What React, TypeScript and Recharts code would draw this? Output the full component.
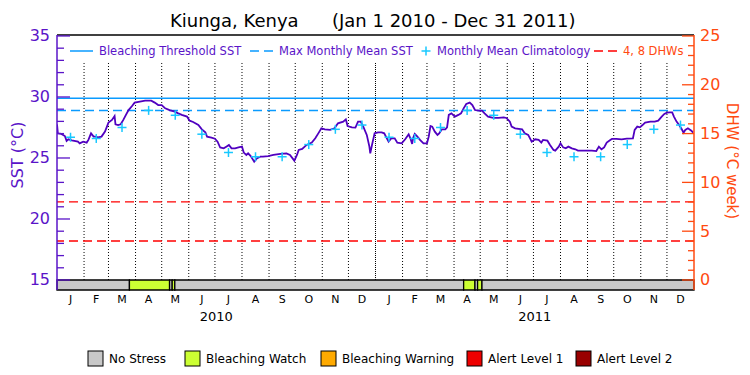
import { ComposedChart, Line, Scatter, XAxis, YAxis, ReferenceLine, ReferenceArea } from "recharts";

const FONT = "'DejaVu Sans', sans-serif";
const PURPLE = "#5a14c8";
const SST_COLOR = "#5000c0";
const BLUE = "#0a9bff";
const CYAN = "#18c8ff";
const RED = "#ff0000";
const ORANGE = "#ff4a10";

// x axis: days since Jan 1 2010
const MONTH_LETTERS = ["J", "F", "M", "A", "M", "J", "J", "A", "S", "O", "N", "D"];
const MONTH_STARTS = [0, 31, 59, 90, 120, 151, 181, 212, 243, 273, 304, 334, 365, 396, 424, 455, 485, 516, 546, 577, 608, 638, 669, 699, 730];
const YEAR_LABELS = ["2010", "2011"];
const YEAR_MIDS = [182.5, 547.5];

const SST_TICKS = [15, 16, 17, 18, 19, 20, 21, 22, 23, 24, 25, 26, 27, 28, 29, 30, 31, 32, 33, 34, 35];
const DHW_TICKS = [0, 1, 2, 3, 4, 5, 6, 7, 8, 9, 10, 11, 12, 13, 14, 15, 16, 17, 18, 19, 20, 21, 22, 23, 24, 25];

// daily SST
const SST_DAYS = [
  0, 1, 5, 9, 11, 13, 17, 24, 26, 30,
  34, 36, 39, 42, 44, 47, 51, 55, 59, 63,
  66, 67, 70, 73, 76, 79, 82, 86, 89, 95,
  101, 108, 112, 116, 120, 124, 129, 135, 139, 143,
  149, 152, 156, 162, 166, 170, 172, 177, 181, 184,
  187, 191, 194, 197, 200, 204, 208, 212, 214, 217,
  219, 222, 226, 229, 233, 236, 242, 248, 256, 263,
  267, 270, 272, 275, 277, 281, 286, 292, 296, 300,
  303, 307, 313, 318, 322, 328, 331, 333, 338, 342,
  345, 348, 351, 355, 358, 359, 361, 364, 368, 372,
  375, 378, 380, 383, 387, 390, 395, 399, 403, 405,
  407, 408, 410, 413, 416, 420, 424, 426, 428, 430,
  433, 436, 438, 441, 445, 447, 449, 452, 456, 460,
  463, 466, 469, 473, 476, 479, 483, 487, 490, 494,
  500, 506, 512, 515, 519, 521, 525, 533, 536, 540,
  544, 548, 552, 555, 557, 562, 565, 569, 571, 575,
  577, 580, 583, 586, 590, 594, 597, 605, 613, 618,
  621, 624, 627, 630, 634, 636, 641, 647, 653, 660,
  662, 665, 668, 671, 674, 680, 685, 689, 693, 696,
  699, 702, 705, 707, 710, 713, 716, 718, 720, 723,
  727, 729,
];
const SST_VALUES = [
  27.75, 27.02, 26.97, 26.8, 26.4, 26.53, 26.45, 26.34, 26.2, 26.34,
  26.26, 26.48, 27.02, 26.75, 26.75, 26.69, 26.75, 27.16, 27.9, 28.12,
  28.44, 27.76, 27.7, 27.76, 28.12, 28.53, 28.93, 29.26, 29.54, 29.62,
  29.7, 29.7, 29.54, 29.34, 29.34, 29.07, 28.93, 28.8, 28.66, 28.53,
  28.39, 28.06, 27.95, 27.7, 27.35, 27.1, 26.75, 26.67, 26.58, 26.34,
  25.86, 25.79, 25.93, 26.07, 25.79, 25.79, 25.87, 25.93, 25.44, 25.25,
  25.38, 25.16, 24.7, 24.97, 25.11, 25.11, 25.16, 25.25, 25.33, 25.38,
  25.25, 24.97, 24.78, 25.25, 25.66, 25.74, 26.07, 26.26, 26.61, 27.08,
  27.43, 27.35, 27.3, 27.43, 27.84, 27.98, 28.17, 27.62, 27.51, 27.49,
  27.98, 27.98, 27.57, 26.89, 25.93, 25.38, 26.07, 27.02, 27.1, 27.1,
  27.02, 26.61, 26.34, 26.61, 26.61, 26.26, 26.2, 26.53, 26.94, 26.61,
  26.15, 26.61, 26.97, 26.75, 26.48, 26.2, 26.2, 26.75, 27.62, 27.57,
  27.16, 26.89, 27.02, 27.35, 27.35, 27.51, 28.53, 28.66, 28.39, 28.53,
  28.66, 29.07, 29.43, 29.54, 29.34, 28.93, 28.88, 28.88, 28.66, 28.39,
  28.28, 28.28, 28.33, 28.28, 27.98, 27.57, 27.43, 27.35, 27.02, 26.89,
  26.34, 26.53, 26.48, 26.26, 26.48, 26.42, 26.07, 25.66, 25.6, 25.93,
  26.2, 25.87, 25.79, 25.93, 25.79, 25.71, 25.6, 25.6, 25.6, 25.57,
  25.93, 25.71, 25.87, 26.26, 26.48, 26.56, 26.56, 26.53, 26.58, 26.61,
  27.3, 27.57, 27.51, 27.7, 27.9, 27.98, 27.98, 28.06, 28.39, 28.61,
  28.72, 28.74, 28.74, 28.39, 27.98, 27.7, 27.35, 27.08, 27.3, 27.43,
  27.24, 27.08,
];

// monthly mean climatology, Jan..Dec
const CLIM_MONTHLY = [26.7, 26.6, 27.5, 28.9, 28.5, 26.95, 25.45, 25.1, 25.1, 26.1, 27.35, 27.7];
const MMM = 28.9;
const BLEACHING_THRESHOLD = 29.9;
const DHW_LEVELS = [4, 8];

// bleaching stress bar
const STRESS_STARTS = [0, 83, 129, 132, 135, 466, 479, 482, 487];
const STRESS_ENDS = [83, 129, 132, 135, 466, 479, 482, 487, 730];
const STRESS_LEVELS = [0, 1, 0, 1, 0, 1, 0, 1, 0];
const STRESS_NAMES = ["No Stress", "Bleaching Watch", "Bleaching Warning", "Alert Level 1", "Alert Level 2"];
const STRESS_COLORS = ["#c8c8c8", "#ccff33", "#ffaa00", "#ee0000", "#990000"];

const SST_MIN = 14.18;
const SST_MAX = 35.08;
const BAR_TOP = 15;
const DOT_TOP = 32.8;

const sstData = SST_DAYS.map((d, i) => ({ day: d, sst: SST_VALUES[i] }));
const midMonths = MONTH_STARTS.slice(0, -1).map((s, i) => (s + MONTH_STARTS[i + 1]) / 2);
const climData = midMonths.map((d, i) => ({ day: d, clim: CLIM_MONTHLY[i % 12] }));
const xTicks = [...midMonths, ...YEAR_MIDS].sort((a, b) => a - b);

function LeftTick(props: any) {
  const { x, y, payload } = props;
  const major = payload.value % 5 === 0;
  const ax = x + 7;
  return (
    <g>
      <line x1={ax} x2={ax + (major ? 13 : 7)} y1={y} y2={y} stroke={PURPLE} strokeWidth={1.3} />
      {major && (
        <text x={x} y={y} textAnchor="end" dominantBaseline="central" fontSize={16} fontFamily={FONT} fill={PURPLE}>
          {payload.value}
        </text>
      )}
    </g>
  );
}

function RightTick(props: any) {
  const { x, y, payload } = props;
  const major = payload.value % 5 === 0;
  const ax = x - 6;
  return (
    <g>
      <line x1={ax - (major ? 12 : 6)} x2={ax} y1={y} y2={y} stroke={ORANGE} strokeWidth={1.3} />
      {major && (
        <text x={x} y={y} textAnchor="start" dominantBaseline="central" fontSize={16} fontFamily={FONT} fill={ORANGE}>
          {payload.value}
        </text>
      )}
    </g>
  );
}

// month letters, plus the year under the middle of each year
function TimeTick(props: any) {
  const { x, y, payload } = props;
  const yi = YEAR_MIDS.indexOf(payload.value);
  if (yi >= 0) {
    return (
      <text x={x} y={y + 17} textAnchor="middle" dominantBaseline="central" fontSize={13} fontFamily={FONT} fill="#000">
        {YEAR_LABELS[yi]}
      </text>
    );
  }
  const idx = midMonths.indexOf(payload.value);
  return (
    <text x={x} y={y} textAnchor="middle" dominantBaseline="central" fontSize={11} fontFamily={FONT} fill="#000">
      {MONTH_LETTERS[idx % 12]}
    </text>
  );
}

function Plus(props: any) {
  const { cx, cy } = props;
  return (
    <g>
      <line x1={cx - 4.5} x2={cx + 4.5} y1={cy} y2={cy} stroke={CYAN} strokeWidth={1.5} />
      <line x1={cx} x2={cx} y1={cy - 4.5} y2={cy + 4.5} stroke={CYAN} strokeWidth={1.5} />
    </g>
  );
}

export default function App() {
  return (
    <div style={{ position: "absolute", left: 0, top: 0, width: 750, height: 375, background: "#fff" }}>
      <ComposedChart width={750} height={375} margin={{ top: 35, right: 0, bottom: 43, left: 0 }}>
        <XAxis
          dataKey="day"
          type="number"
          domain={[0, 730]}
          ticks={xTicks}
          interval={0}
          allowDataOverflow
          height={42}
          tickSize={0}
          tickMargin={9}
          axisLine={false}
          tickLine={false}
          tick={(p: any) => <TimeTick {...p} />}
        />
        <YAxis
          yAxisId="sst"
          type="number"
          domain={[SST_MIN, SST_MAX]}
          ticks={SST_TICKS}
          interval={0}
          allowDataOverflow
          width={57}
          tickSize={0}
          tickMargin={7}
          tickLine={false}
          axisLine={{ stroke: PURPLE, strokeWidth: 1.5 }}
          tick={(p: any) => <LeftTick {...p} />}
        />
        <YAxis
          yAxisId="dhw"
          orientation="right"
          type="number"
          domain={[(SST_MIN - 15) * 1.25, (SST_MAX - 15) * 1.25]}
          ticks={DHW_TICKS}
          interval={0}
          allowDataOverflow
          width={56}
          tickSize={0}
          tickMargin={6}
          tickLine={false}
          axisLine={{ stroke: ORANGE, strokeWidth: 1.5 }}
          tick={(p: any) => <RightTick {...p} />}
        />

        <ReferenceLine yAxisId="sst" y={SST_MAX} stroke="#000" strokeWidth={1.5} ifOverflow="visible" />
        {MONTH_STARTS.slice(1, -1).map((d) => (
          <ReferenceLine
            key={d}
            yAxisId="sst"
            segment={[
              { x: d, y: BAR_TOP },
              { x: d, y: DOT_TOP },
            ]}
            stroke="#000"
            strokeDasharray={d === 365 ? "1 1" : "1 2"}
          />
        ))}
        {DHW_LEVELS.map((v) => (
          <ReferenceLine key={v} yAxisId="dhw" y={v} stroke={RED} strokeWidth={1.4} strokeDasharray="9 5" />
        ))}
        <ReferenceLine yAxisId="sst" y={MMM} stroke={BLUE} strokeWidth={1.5} strokeDasharray="9 5" />
        <ReferenceLine yAxisId="sst" y={BLEACHING_THRESHOLD} stroke={BLUE} strokeWidth={1.5} />

        <Line
          yAxisId="sst"
          data={sstData}
          dataKey="sst"
          type="linear"
          stroke={SST_COLOR}
          strokeWidth={1.8}
          dot={false}
          isAnimationActive={false}
        />
        <Scatter yAxisId="sst" data={climData} dataKey="clim" shape={(p: any) => <Plus {...p} />} isAnimationActive={false} />

        {STRESS_STARTS.map((s, i) => (
          <ReferenceArea
            key={i}
            yAxisId="sst"
            x1={s}
            x2={STRESS_ENDS[i]}
            y1={SST_MIN}
            y2={BAR_TOP}
            fill={STRESS_COLORS[STRESS_LEVELS[i]]}
            fillOpacity={1}
            stroke="#000"
            strokeWidth={1.3}
            ifOverflow="visible"
          />
        ))}
      </ComposedChart>

      <svg width={750} height={375} style={{ position: "absolute", left: 0, top: 0, pointerEvents: "none" }}>
        <text y={27} fontSize={18} fontFamily={FONT} fill="#000">
          <tspan x={170}>Kiunga, Kenya</tspan>
          <tspan x={332}>(Jan 1 2010 - Dec 31 2011)</tspan>
        </text>

        <g fontSize={11.5} fontFamily={FONT}>
          <line x1={70} x2={93} y1={51} y2={51} stroke={BLUE} strokeWidth={1.5} />
          <text x={99} y={51} dominantBaseline="central" fill={PURPLE}>Bleaching Threshold SST</text>
          <line x1={250} x2={273} y1={51} y2={51} stroke={BLUE} strokeWidth={1.5} strokeDasharray="9 5" />
          <text x={279} y={51} dominantBaseline="central" fill={PURPLE}>Max Monthly Mean SST</text>
          <line x1={421.5} x2={430.5} y1={51} y2={51} stroke={CYAN} strokeWidth={1.5} />
          <line x1={426} x2={426} y1={46.5} y2={55.5} stroke={CYAN} strokeWidth={1.5} />
          <text x={437} y={51} dominantBaseline="central" fill={PURPLE}>Monthly Mean Climatology</text>
          <line x1={594} x2={617} y1={51} y2={51} stroke={RED} strokeWidth={1.4} strokeDasharray="9 5" />
          <text x={623} y={51} dominantBaseline="central" fill={ORANGE}>4, 8 DHWs</text>
        </g>

        <text
          transform="translate(17,155) rotate(-90)"
          textAnchor="middle"
          dominantBaseline="central"
          fontSize={16}
          fontFamily={FONT}
          fill={PURPLE}
        >
          SST (°C)
        </text>
        <text
          transform="translate(732,161) rotate(90)"
          textAnchor="middle"
          dominantBaseline="central"
          fontSize={15}
          fontFamily={FONT}
          fill={ORANGE}
        >
          DHW (°C week)
        </text>

        <g fontSize={12} fontFamily={FONT}>
          {STRESS_NAMES.map((name, i) => {
            const bx = [88, 185, 321, 467, 576][i];
            return (
              <g key={name}>
                <rect x={bx} y={351} width={15} height={15} fill={STRESS_COLORS[i]} stroke="#000" strokeWidth={1} />
                <text x={bx + 21} y={359} dominantBaseline="central" fill="#000">
                  {name}
                </text>
              </g>
            );
          })}
        </g>
      </svg>
    </div>
  );
}
